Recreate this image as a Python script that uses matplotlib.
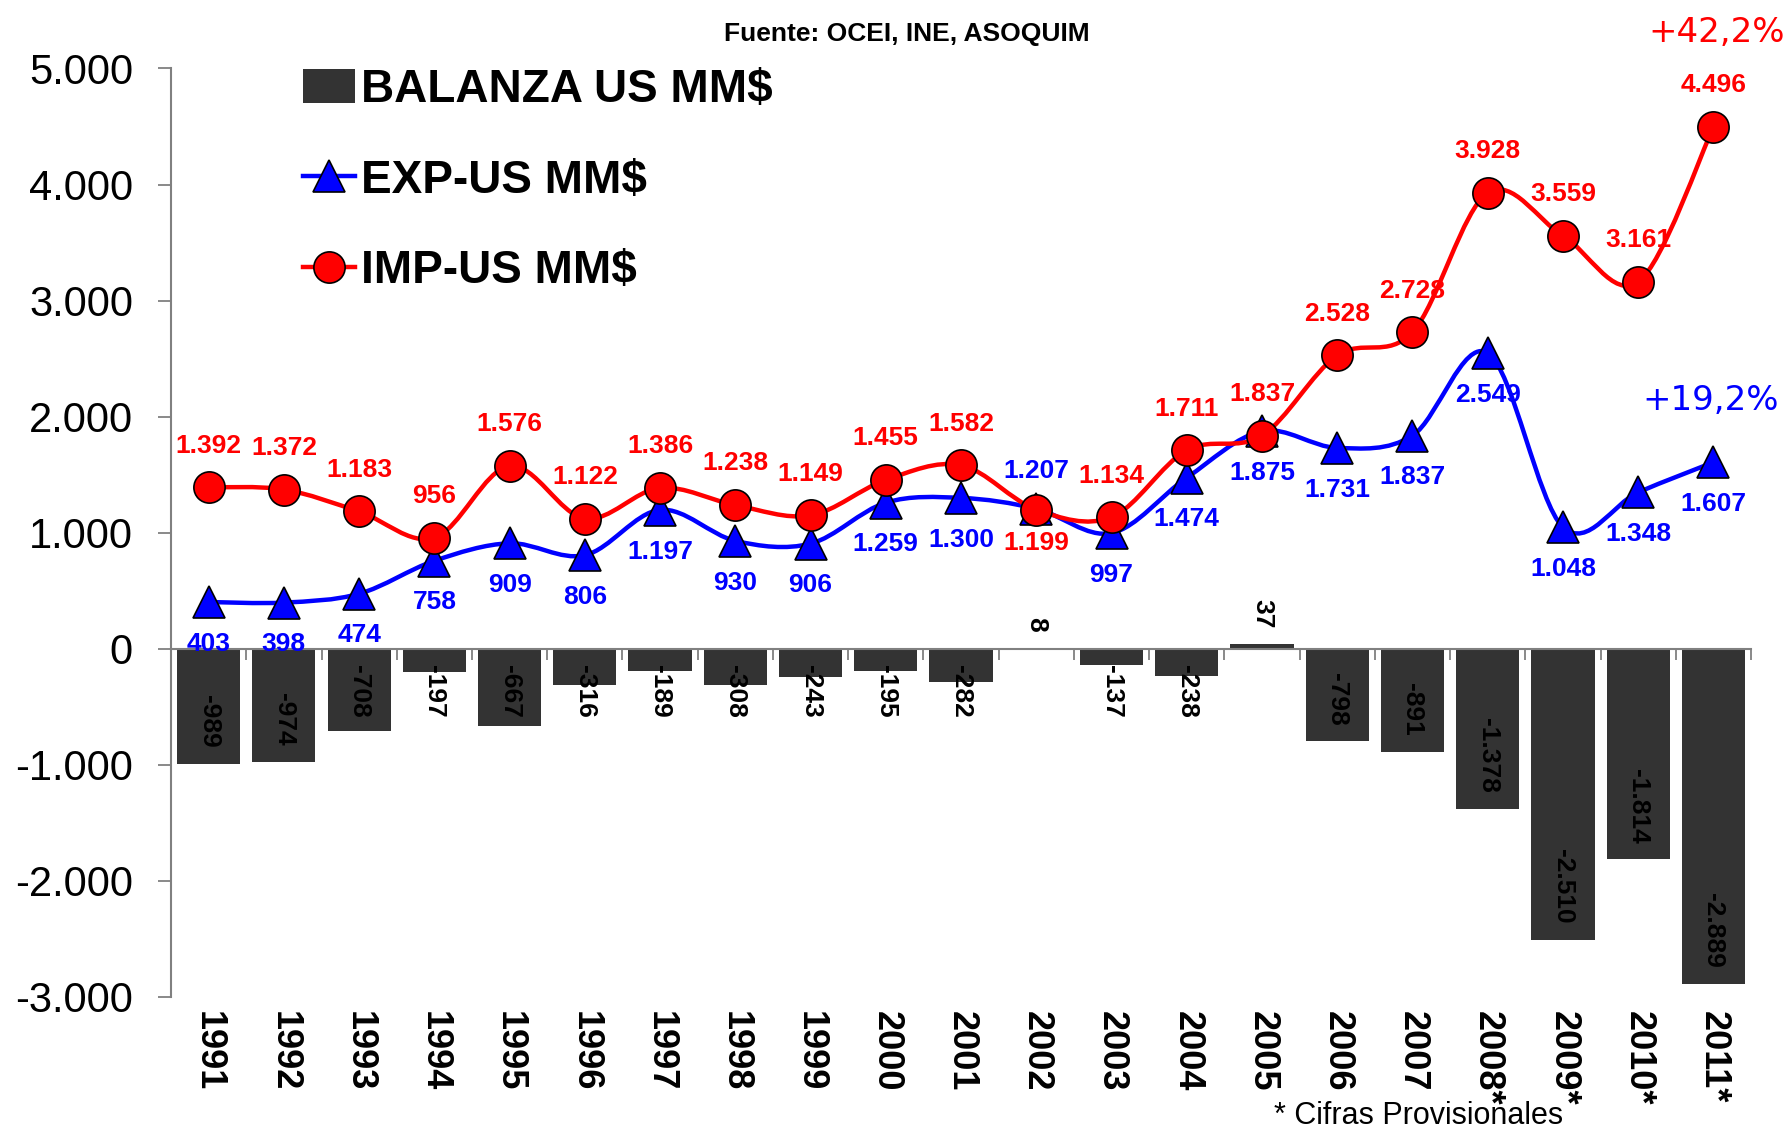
import matplotlib
matplotlib.use("Agg")
import matplotlib.pyplot as plt
from matplotlib.path import Path
from matplotlib.patches import PathPatch, Patch
from matplotlib.lines import Line2D
from matplotlib.ticker import FuncFormatter

plt.rcParams["font.family"] = ["Liberation Sans", "DejaVu Sans"]

# Data (US MM$)
years = ["1991", "1992", "1993", "1994", "1995", "1996", "1997", "1998",
         "1999", "2000", "2001", "2002", "2003", "2004", "2005", "2006",
         "2007", "2008*", "2009*", "2010*", "2011*"]
exports = [403, 398, 474, 758, 909, 806, 1197, 930, 906, 1259, 1300,
           1207, 997, 1474, 1875, 1731, 1837, 2549, 1048, 1348, 1607]
imports = [1392, 1372, 1183, 956, 1576, 1122, 1386, 1238, 1149, 1455, 1582,
           1199, 1134, 1711, 1837, 2528, 2728, 3928, 3559, 3161, 4496]
balance = [-989, -974, -708, -197, -667, -316, -189, -308, -243, -195, -282,
           8, -137, -238, 37, -798, -891, -1378, -2510, -1814, -2889]
yticks = [-3000, -2000, -1000, 0, 1000, 2000, 3000, 4000, 5000]

# years where the export label sits above and the import label below
swap_labels = ["2002"]

BAR = "#333333"
RED = "#ff0000"
BLUE = "#0000ff"


def fmt(v):
    return f"{int(v):,}".replace(",", ".")


def smooth_path(xs, ys):
    """Excel-like smoothed line as cubic bezier segments."""
    n = len(xs)
    verts = [(xs[0], ys[0])]
    codes = [Path.MOVETO]
    for i in range(n - 1):
        a = max(i - 1, 0)
        b = min(i + 2, n - 1)
        c1 = (xs[i] + (xs[i + 1] - xs[a]) / 6, ys[i] + (ys[i + 1] - ys[a]) / 6)
        c2 = (xs[i + 1] - (xs[b] - xs[i]) / 6, ys[i + 1] - (ys[b] - ys[i]) / 6)
        verts += [c1, c2, (xs[i + 1], ys[i + 1])]
        codes += [Path.CURVE4] * 3
    return Path(verts, codes)


fig = plt.figure(figsize=(17.91, 11.32), dpi=100)
ax = fig.add_axes([0.0955, 0.1193, 0.8822, 0.8202])
x = list(range(len(years)))

bars = ax.bar(x, balance, width=0.84, color=BAR, zorder=2)

ax.add_patch(PathPatch(smooth_path(x, exports), fill=False, edgecolor=BLUE,
                       lw=3.2, zorder=3, capstyle="round"))
ax.plot(x, exports, ls="none", marker="^", ms=23, mfc=BLUE, mec="black",
        mew=1.2, zorder=3.5)
ax.add_patch(PathPatch(smooth_path(x, imports), fill=False, edgecolor=RED,
                       lw=3.2, zorder=4, capstyle="round"))
ax.plot(x, imports, ls="none", marker="o", ms=22.5, mfc=RED, mec="black",
        mew=1.2, zorder=4.5)

ax.set_xlim(-0.5, len(years) - 0.5)
ax.set_ylim(-3000, 5000)

# axes styling
for s in ["top", "right"]:
    ax.spines[s].set_visible(False)
ax.spines["left"].set_color("#808080")
ax.spines["left"].set_linewidth(1.5)
ax.spines["bottom"].set_position(("data", 0))
ax.spines["bottom"].set_color("#808080")
ax.spines["bottom"].set_linewidth(1.5)
ax.spines["bottom"].set_zorder(2.5)

ax.set_yticks(yticks)
ax.yaxis.set_major_formatter(FuncFormatter(lambda v, _: fmt(v)))
ax.tick_params(axis="y", length=9.4, width=1.3, color="#808080", pad=18,
               labelsize=30)
ax.set_xticks([i - 0.5 for i in range(len(years) + 1)])
ax.set_xticklabels([])
ax.tick_params(axis="x", length=8, width=1.3, color="#808080", direction="out")

# year labels below the plot area
for i, yr in enumerate(years):
    ax.annotate(yr, (i, -3000), xytext=(0, -10), textcoords="offset points",
                rotation=270, ha="center", va="top", fontsize=26,
                fontweight="bold")

# line data labels
for i, yr in enumerate(years):
    off_imp, off_exp = 30, -30
    if yr in swap_labels:
        off_imp, off_exp = -24, 27
    ax.annotate(fmt(imports[i]), (i, imports[i]), xytext=(0, off_imp),
                textcoords="offset points", ha="center", va="center",
                color=RED, fontsize=19, fontweight="bold", zorder=6)
    ax.annotate(fmt(exports[i]), (i, exports[i]), xytext=(0, off_exp),
                textcoords="offset points", ha="center", va="center",
                color=BLUE, fontsize=19, fontweight="bold", zorder=6)

# bar labels: inside end when there is room, else just under the axis
fig.canvas.draw()
renderer = fig.canvas.get_renderer()
pad_pt = 11.5
pad_px = pad_pt * fig.dpi / 72
axis_px = ax.transData.transform((0, 0))[1]
for i, v in enumerate(balance):
    if v >= 0:
        ax.annotate(fmt(v), (i, v), xytext=(0, pad_pt), textcoords="offset points",
                    rotation=270, ha="center", va="bottom", fontsize=19,
                    fontweight="bold", zorder=6)
        continue
    t = ax.annotate(fmt(v), (i, 0), xytext=(0, -pad_pt), textcoords="offset points",
                    rotation=270, ha="center", va="top", fontsize=19,
                    fontweight="bold", zorder=6)
    h = t.get_window_extent(renderer).height
    end_px = ax.transData.transform((i, v))[1]
    if end_px + pad_px + h < axis_px - pad_px:
        t.xy = (i, v)
        t.xyann = (0, pad_pt)
        t.set_va("bottom")

# legend
handles = [
    Patch(facecolor=BAR, label="BALANZA US MM$"),
    Line2D([0], [0], color=BLUE, lw=3.2, marker="^", ms=23, mfc=BLUE, mec="black",
           mew=1.2, label="EXP-US MM$"),
    Line2D([0], [0], color=RED, lw=3.2, marker="o", ms=22.5, mfc=RED, mec="black",
           mew=1.2, label="IMP-US MM$"),
]
fig.legend(handles=handles, loc="upper left", bbox_to_anchor=(0.169, 0.940),
           frameon=False, prop={"size": 33, "weight": "bold"}, handlelength=1.15,
           handleheight=0.78, handletextpad=0.12, labelspacing=1.02,
           borderpad=0, borderaxespad=0)

fig.text(907 / 1791, 1 - 34 / 1132, "Fuente: OCEI, INE, ASOQUIM", ha="center",
         va="center", fontsize=19, fontweight="bold")
fig.text(1717 / 1791, 1 - 32 / 1132, "+42,2%", ha="center", va="center",
         fontsize=24.5, color=RED, family="DejaVu Sans")
fig.text(1711 / 1791, 1 - 400 / 1132, "+19,2%", ha="center", va="center",
         fontsize=24.5, color=BLUE, family="DejaVu Sans")
fig.text(1419 / 1791, 1 - 1116 / 1132, "* Cifras Provisionales", ha="center",
         va="center", fontsize=22)

fig.savefig("out.png", dpi=100)
